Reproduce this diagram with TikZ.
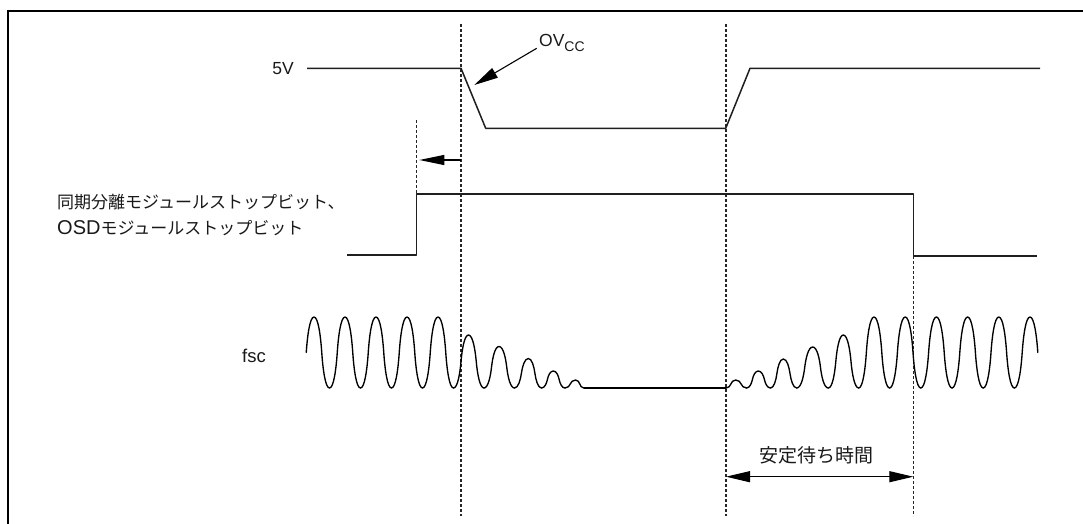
\documentclass[tikz,border=0pt]{standalone}
\usepackage{fontspec}
\setmainfont{Liberation Sans}
\newfontfamily\cjk{Noto Sans CJK JP}
\usetikzlibrary{arrows.meta}
\begin{document}
\begin{tikzpicture}[x=1pt,y=-1pt,
  sig/.style={line width=1.5pt,line join=round,black!88},
  wave/.style={line width=1.35pt,line join=round,line cap=round,black},
  guide/.style={line width=1.2pt,black!85,dash pattern=on 3.2pt off 1.8pt},
  bigtip/.style={-{Triangle[length=24pt,width=11pt]}},
  dbltip/.style={{Triangle[length=24pt,width=11pt]}-{Triangle[length=24pt,width=11pt]}},
  lbl/.style={inner sep=0pt,font=\fontsize{17}{26}\selectfont,text=black!90}]
\useasboundingbox (0,0) rectangle (1083,524);
% frame (top and left)
\draw[line width=2.4pt] (8,524) -- (8,11) -- (1083,11);

% guide coordinates
\coordinate (g1t) at (461,24);   \coordinate (g1b) at (461,516);
\coordinate (g2t) at (726,24);   \coordinate (g2b) at (726,516);
\coordinate (g3t) at (913.3,256); \coordinate (g3b) at (913.3,516);
\coordinate (g0t) at (416.7,120); \coordinate (g0b) at (416.7,194);
\draw[guide] (g1t) -- (g1b);
\draw[guide] (g2t) -- (g2b);
\draw[guide] (g3t) -- (g3b);
\draw[guide] (g0t) -- (g0b);

% labels
\node[lbl,anchor=east,font=\fontsize{17.5}{20}\selectfont] (v5) at (294,69) {5V};
\node[lbl,anchor=east,font=\fontsize{18.5}{20}\selectfont] (fsc) at (266,356) {fsc};
\node[lbl,anchor=west,align=left] (stop) at (57,214.5)
  {{\cjk 同期分離モジュールストップビット、}\\{\fontsize{20}{26}\selectfont OSD}{\cjk モジュールストップビット}};
\node[lbl,anchor=base west,font=\fontsize{17.5}{20}\selectfont] (ov) at (539,46.7)
  {OV\raisebox{-5pt}{\fontsize{14}{14}\selectfont CC}};
\node[lbl,font=\cjk\fontsize{19}{20}\selectfont] (wait) at (816.7,455) {安定待ち時間};

% 5V / OVcc
\draw[sig] (307,68.3) -- (461,68.3) -- (485.7,128.3) -- (725.7,128.3) -- (750,68.3) -- (1040,68.3);
\coordinate (ovs) at (536.7,48.3);
\coordinate (ovtip) at (474.3,85);
\draw[line width=1.1pt,bigtip] (ovs) -- (ovtip);

% stop bit
\draw[sig] (347,255) -- (416.7,255) -- (416.7,194) -- (913.3,194) -- (913.3,256) -- (1036.7,256);
\coordinate (sa) at (461,160);
\coordinate (sb) at (419.3,160);
\draw[line width=1.1pt,-{Triangle[length=25pt,width=10pt]}] (sa) -- (sb);

% fsc waveform: rounded humps between bottoms at y=388
\def\fc{0.55}\def\sc{0.14}
\foreach \xl/\xp/\xr/\t in {
  298.5/314/329.5/317,
  329.5/345/360.5/317, 360.5/376/391.5/317, 391.5/407/422.5/317, 422.5/438/453.5/317,
  453.5/468.5/484/335, 484/499/514.5/346.5, 514.5/528.3/541.5/358.5,
  541.5/553.3/565/371, 565/575.5/584/380,
  726/735.7/746.5/380, 746.5/758.3/770.5/371, 770.5/783.3/796.7/359,
  796.7/812.7/828.3/347, 828.3/843.3/858.7/335,
  858.7/874/889.6/317, 889.6/905.2/920.8/317, 920.8/936.4/952/317,
  952/967.6/983.2/317, 983.2/998.8/1014.4/317, 1014.4/1030/1045.6/317}{
  \pgfmathsetmacro\ym{(388+\t)/2}
  \pgfmathsetmacro\xa{(\xl+\xp)/2}
  \pgfmathsetmacro\xb{(\xp+\xr)/2}
  \pgfmathsetmacro\da{\xa-\xl}
  \pgfmathsetmacro\db{\xr-\xb}
  \pgfmathsetmacro\hh{388-\ym}
  \ifdim\xl pt<300pt
    % first partial wave, starts at mid level
    \draw[wave] (\xa,\ym)
      .. controls ({\xa+\sc*\da},{\ym-0.45*\hh}) and ({\xp-\fc*\da},\t) .. (\xp,\t)
      .. controls ({\xp+\fc*\db},\t) and ({\xb-\sc*\db},{\ym-0.45*\hh}) .. (\xb,\ym)
      .. controls ({\xb+\sc*\db},{\ym+0.45*\hh}) and ({\xr-\fc*\db},388) .. (\xr,388);
  \else\ifdim\xr pt>1040pt
    % last partial wave, ends at mid level
    \draw[wave] (\xl,388) .. controls ({\xl+\fc*\da},388) and ({\xa-\sc*\da},{\ym+0.45*\hh}) .. (\xa,\ym)
      .. controls ({\xa+\sc*\da},{\ym-0.45*\hh}) and ({\xp-\fc*\da},\t) .. (\xp,\t)
      .. controls ({\xp+\fc*\db},\t) and ({\xb-\sc*\db},{\ym-0.45*\hh}) .. (\xb,\ym);
  \else
    \draw[wave] (\xl,388) .. controls ({\xl+\fc*\da},388) and ({\xa-\sc*\da},{\ym+0.45*\hh}) .. (\xa,\ym)
      .. controls ({\xa+\sc*\da},{\ym-0.45*\hh}) and ({\xp-\fc*\da},\t) .. (\xp,\t)
      .. controls ({\xp+\fc*\db},\t) and ({\xb-\sc*\db},{\ym-0.45*\hh}) .. (\xb,\ym)
      .. controls ({\xb+\sc*\db},{\ym+0.45*\hh}) and ({\xr-\fc*\db},388) .. (\xr,388);
  \fi\fi
}
\draw[wave] (584,388) -- (726,388);

% settling time
\coordinate (wa) at (726,476.7);
\coordinate (wb) at (913.3,476.7);
\draw[line width=1.1pt,dbltip] (wa) -- (wb);
\end{tikzpicture}
\end{document}
